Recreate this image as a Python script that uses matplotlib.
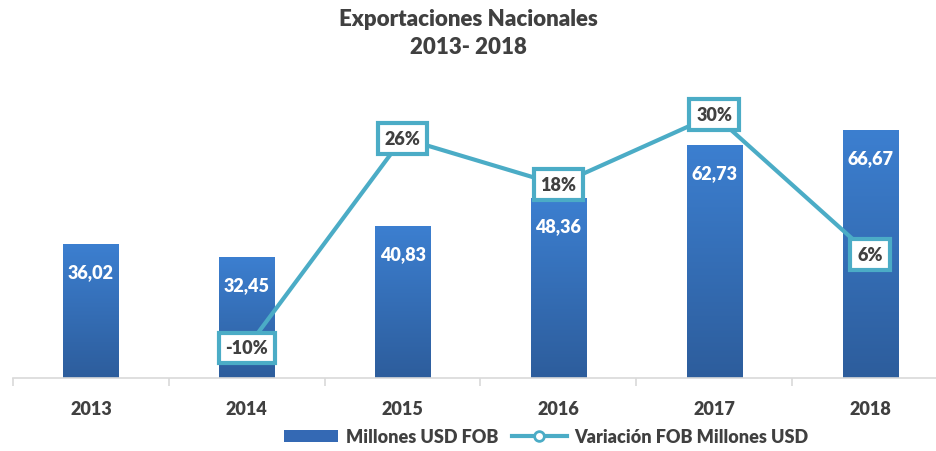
"""Exportaciones Nacionales 2013-2018: bars (millones USD FOB) plus the yearly
variation as a line on a hidden secondary axis, labels in white-filled boxes."""
import numpy as np
import matplotlib.pyplot as plt
import matplotlib.colors as mcolors
from matplotlib.patches import Patch
from matplotlib.lines import Line2D

years = ["2013", "2014", "2015", "2016", "2017", "2018"]
fob = [36.02, 32.45, 40.83, 48.36, 62.73, 66.67]
fob_labels = ["36,02", "32,45", "40,83", "48,36", "62,73", "66,67"]
var_years = ["2014", "2015", "2016", "2017", "2018"]
variacion = [-10, 26, 18, 30, 6]

plt.rcParams["font.family"] = ["Lato", "DejaVu Sans"]
TEXT = "#404040"
LINE = "#4bacc6"
BAR_TOP = "#3c7fd0"
BAR_BOTTOM = "#2d5d9c"
WT = "heavy"
W, H = 936, 452

fig = plt.figure(figsize=(W / 100, H / 100), dpi=100)
fig.patch.set_facecolor("white")

# plot area in pixels: x 13..948 (runs off the right edge), y 87..379
ax = fig.add_axes([13 / W, (H - 379) / H, 935 / W, (379 - 87) / H])
ax2 = ax.twinx()

x = np.arange(len(years))
bw = 0.353
cmap = mcolors.LinearSegmentedColormap.from_list("bar", [BAR_BOTTOM, BAR_TOP])
grad = np.linspace(0, 1, 256).reshape(-1, 1)
for xi, v, lab in zip(x, fob, fob_labels):
    ax.imshow(grad, cmap=cmap, origin="lower", aspect="auto",
              extent=(xi - bw / 2, xi + bw / 2, 0, v), zorder=2)
    ax.annotate(lab, (xi, v), xytext=(0, -27), textcoords="offset pixels",
                ha="center", va="center", color="white", fontsize=13,
                weight=WT, zorder=3)

ax.set_xlim(-0.5, len(years) - 0.5)
ax.set_ylim(0, 78.7)
ax.set_yticks([])
ax.set_xticks(x)
ax.set_xticklabels(years, fontsize=13, weight=WT, color=TEXT)
ax.tick_params(axis="x", which="major", length=0, pad=16)
ax.set_xticks(np.arange(len(years)) - 0.5, minor=True)
ax.tick_params(axis="x", which="minor", length=6, color="#d9d9d9", width=1.2)
for s in ["top", "left", "right"]:
    ax.spines[s].set_visible(False)
ax.spines["bottom"].set_color("#d9d9d9")
ax.spines["bottom"].set_linewidth(1.2)

xv = [years.index(y) for y in var_years]
ax2.plot(xv, variacion, color=LINE, lw=3, zorder=4, solid_capstyle="round")
for xi, v in zip(xv, variacion):
    ax2.text(xi, v, f"{v}%", ha="center", va="center", fontsize=13,
             weight=WT, color=TEXT, zorder=5,
             bbox=dict(boxstyle="square,pad=0.38", fc="white", ec=LINE, lw=3))
ax2.set_ylim(-15.15, 34.95)
ax2.set_yticks([])
for s in ax2.spines.values():
    s.set_visible(False)
ax.set_zorder(1)
ax2.set_zorder(2)
ax2.patch.set_visible(False)

fig.text(0.5, 1 - 20 / H, "Exportaciones Nacionales", ha="center", va="center",
         fontsize=16, weight=WT, color=TEXT)
fig.text(0.5, 1 - 48 / H, "2013- 2018", ha="center", va="center",
         fontsize=16, weight=WT, color=TEXT)

handles = [Patch(facecolor="#3469b4", edgecolor="none"),
           Line2D([], [], color=LINE, lw=3, marker="o", markersize=7,
                  markerfacecolor="white", markeredgecolor=LINE, markeredgewidth=2)]
fig.legend(handles, ["Millones USD FOB", "Variación FOB Millones USD"],
           loc="center", bbox_to_anchor=(546 / W, 1 - 438 / H), ncol=2, frameon=False,
           handlelength=3.0, handleheight=0.6, handletextpad=0.4, columnspacing=0.8,
           prop=dict(size=13, weight=WT), labelcolor=TEXT)

fig.savefig("out.png", dpi=100, facecolor="white")
